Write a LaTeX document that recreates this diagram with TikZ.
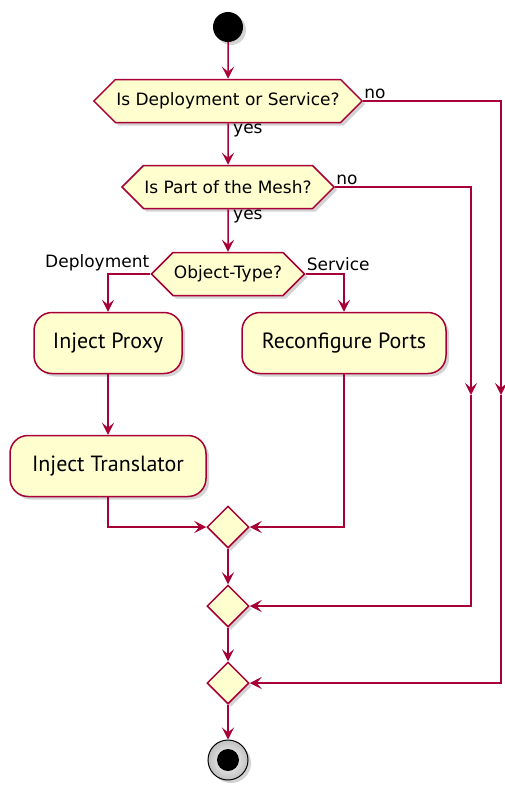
\documentclass[tikz,border=0pt]{standalone}
\usepackage{fontspec}
\setmainfont{DejaVu Sans}
\newfontfamily\actfont{PT Sans}
\usetikzlibrary{shapes}
\usetikzlibrary{arrows.meta}
\usetikzlibrary{shadows}

\definecolor{umlred}{HTML}{A80036}
\definecolor{umlfill}{HTML}{FEFECE}

\begin{document}
\begin{tikzpicture}[x=1pt, y=-1pt,
  flow/.style={draw=umlred, line width=1.5pt, -{Stealth[length=12pt, width=12pt, inset=5pt]}},
  umlshadow/.style={drop shadow={opacity=0.35, shadow xshift=3pt, shadow yshift=-3pt}},
  decision/.style={signal, signal to=east and west, draw=umlred, fill=umlfill, line width=1.5pt,
    minimum height=43pt, inner xsep=1pt, umlshadow, font=\fontsize{17}{20}\selectfont},
  activity/.style={rectangle, rounded corners=18pt, draw=umlred, fill=umlfill, line width=1.5pt,
    minimum height=61pt, umlshadow, font=\actfont\fontsize{22}{26}\selectfont},
  merge/.style={diamond, draw=umlred, fill=umlfill, line width=1.5pt,
    minimum width=42pt, minimum height=42pt, inner sep=0pt, umlshadow},
  branch/.style={font=\fontsize{17}{20}\selectfont, inner sep=1pt}]

\useasboundingbox (0, 0) rectangle (504, 785);

%Draw start and stop
\node[circle, fill=black, minimum size=30pt, umlshadow] (start) at (228, 27) {};
\node[circle, draw=black, line width=1pt, inner color=white, outer color=gray!50,
  minimum size=40pt, umlshadow] (stop) at (228, 760) {};
\node[circle, fill=black, minimum size=22pt, inner sep=0pt] (stopdot) at (stop) {};

%Draw decisions
\node[decision] (deploy) at (228, 101) {Is Deployment or Service?};
\node[decision] (mesh) at (228, 187) {Is Part of the Mesh?};
\node[decision] (objtype) at (228, 274) {Object-Type?};

%Draw activities
\node[activity, minimum width=148pt] (proxy) at (108, 343) {Inject Proxy};
\node[activity, minimum width=204pt] (ports) at (344, 343) {Reconfigure Ports};
\node[activity, minimum width=196pt] (translator) at (108, 466) {Inject Translator};

%Draw merges
\node[merge] (merge1) at (228, 527) {};
\node[merge] (merge2) at (228, 606) {};
\node[merge] (merge3) at (228, 683) {};

\coordinate (noa) at (501, 395);
\coordinate (nob) at (471, 395);

%Draw connectors
\draw[flow] (start) -- (deploy);
\draw[flow] (deploy) -- (mesh);
\draw[flow] (mesh) -- (objtype);
\draw[flow] (objtype.west) -| (proxy.north);
\draw[flow] (objtype.east) -| (ports.north);
\draw[flow] (proxy) -- (translator);
\draw[flow] (translator.south) |- (merge1.west);
\draw[flow] (ports.south) |- (merge1.east);
\draw[flow] (deploy.east) -| (noa);
\draw[flow] (noa) |- (merge3.east);
\draw[flow] (mesh.east) -| (nob);
\draw[flow] (nob) |- (merge2.east);
\draw[flow] (merge1) -- (merge2);
\draw[flow] (merge2) -- (merge3);
\draw[flow] (merge3) -- (stop);

%Draw branch labels
\node[branch, anchor=south west] (deployno) at ([yshift=1pt]deploy.east) {no};
\node[branch, anchor=north west] (deployyes) at ([xshift=4pt]deploy.south) {yes};
\node[branch, anchor=south west] (meshno) at ([yshift=1pt]mesh.east) {no};
\node[branch, anchor=north west] (meshyes) at ([xshift=4pt]mesh.south) {yes};
\node[branch, anchor=south east] (typedeploy) at ([yshift=2pt]objtype.west) {Deployment};
\node[branch, anchor=south west] (typeservice) at ([yshift=2pt]objtype.east) {Service};

\end{tikzpicture}
\end{document}
